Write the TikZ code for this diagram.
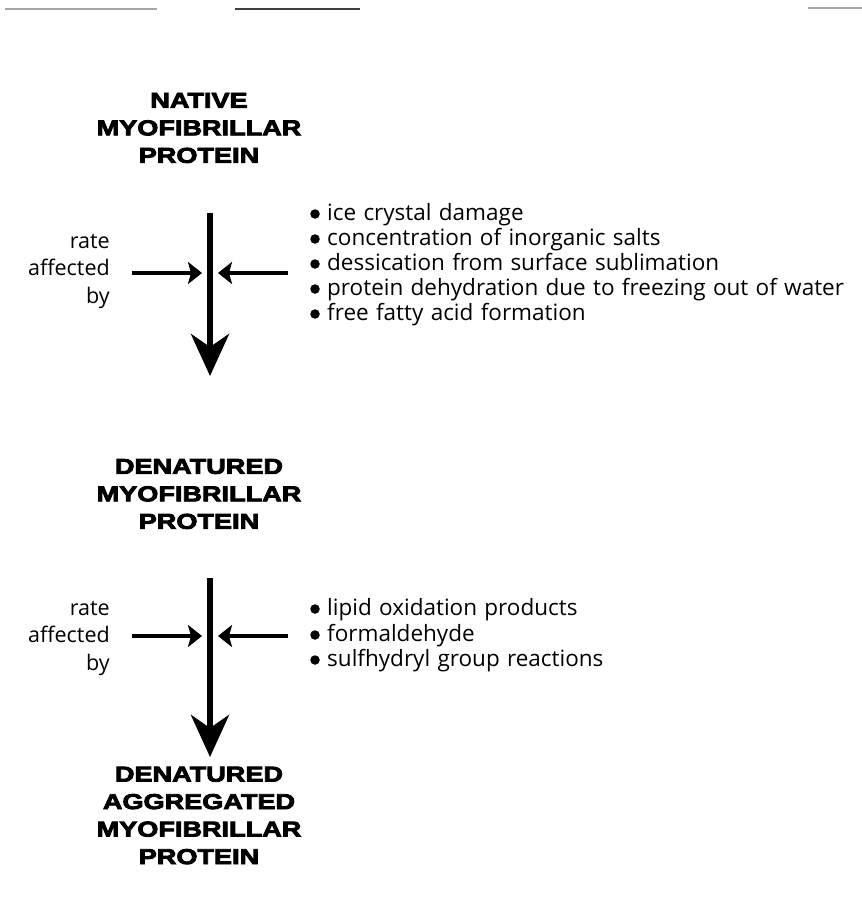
\documentclass[tikz,border=0pt]{standalone}
\usepackage{fontspec}
\setmainfont[WordSpace=1.25]{Open Sans}
\newfontfamily\titlefont[FakeStretch=1.26,FakeBold=4]{Liberation Sans Bold}
\usetikzlibrary{arrows.meta}
\tikzset{
  titletext/.style={font=\titlefont\fontsize{21.5}{27.5}\selectfont, align=center, inner sep=0pt},
  bodytext/.style={font=\fontsize{22.5}{27}\selectfont, inner sep=0pt, text height=12pt, text depth=0pt, anchor=west},
  ratetext/.style={font=\fontsize{21.5}{27.5}\selectfont, align=right, inner sep=0pt, anchor=east},
  mainarrow/.style={line width=6.5pt, -{Stealth[length=42pt,width=38pt,inset=13pt]}},
  sidearrow/.style={line width=3.5pt, -{Stealth[length=14pt,width=22pt,inset=3pt]}},
  bulletdot/.style={circle, fill=black, inner sep=0pt, minimum size=9.5pt},
  scanline/.style={line width=1.2pt, gray!70}
}
\begin{document}
\begin{tikzpicture}[x=1pt,y=-1pt]
\useasboundingbox (0,0) rectangle (862,905);
% scan lines at top
\draw[scanline] (5,9) -- (157,9);
\draw[scanline, black!75] (235,9) -- (360,9);
\draw[scanline] (808,8) -- (862,8);

% titles
\node[titletext] (t1) at (199,128) {NATIVE\\MYOFIBRILLAR\\PROTEIN};
\node[titletext] (t2) at (199,494) {DENATURED\\MYOFIBRILLAR\\PROTEIN};
\node[titletext] (t3) at (199,815.5) {DENATURED\\AGGREGATED\\MYOFIBRILLAR\\PROTEIN};

% main arrows
\coordinate (s1top) at (210,213);
\coordinate (s1tip) at (210,376);
\coordinate (s2top) at (210,578);
\coordinate (s2tip) at (210,757);
\draw[mainarrow] (s1top) -- (s1tip);
\draw[mainarrow] (s2top) -- (s2tip);

% rate labels
\node[ratetext] (r1) at (110,271) {rate\\affected\\by};
\node[ratetext] (r2) at (110,638) {rate\\affected\\by};

% side arrows
\coordinate (a1l) at (132,273);
\coordinate (a1m) at (202,273);
\coordinate (a1n) at (218,273);
\coordinate (a1r) at (288,273);
\draw[sidearrow] (a1l) -- (a1m);
\draw[sidearrow] (a1r) -- (a1n);
\coordinate (a2l) at (132,636);
\coordinate (a2m) at (202,636);
\coordinate (a2n) at (218,636);
\coordinate (a2r) at (288,636);
\draw[sidearrow] (a2l) -- (a2m);
\draw[sidearrow] (a2r) -- (a2n);

% bullets block 1
\node[bulletdot] (d11) at (315,214) {};
\node[bodytext] (b11) at (327,214) {ice crystal damage};
\node[bulletdot] (d12) at (315,239) {};
\node[bodytext] (b12) at (327,239) {concentration of inorganic salts};
\node[bulletdot] (d13) at (315,264) {};
\node[bodytext] (b13) at (327,264) {dessication from surface sublimation};
\node[bulletdot] (d14) at (315,289) {};
\node[bodytext] (b14) at (327,289) {protein dehydration due to freezing out of water};
\node[bulletdot] (d15) at (315,314) {};
\node[bodytext] (b15) at (327,314) {free fatty acid formation};

% bullets block 2
\node[bulletdot] (d21) at (315,609) {};
\node[bodytext] (b21) at (327,609) {lipid oxidation products};
\node[bulletdot] (d22) at (315,635) {};
\node[bodytext] (b22) at (327,635) {formaldehyde};
\node[bulletdot] (d23) at (315,660) {};
\node[bodytext] (b23) at (327,660) {sulfhydryl group reactions};
\end{tikzpicture}
\end{document}
